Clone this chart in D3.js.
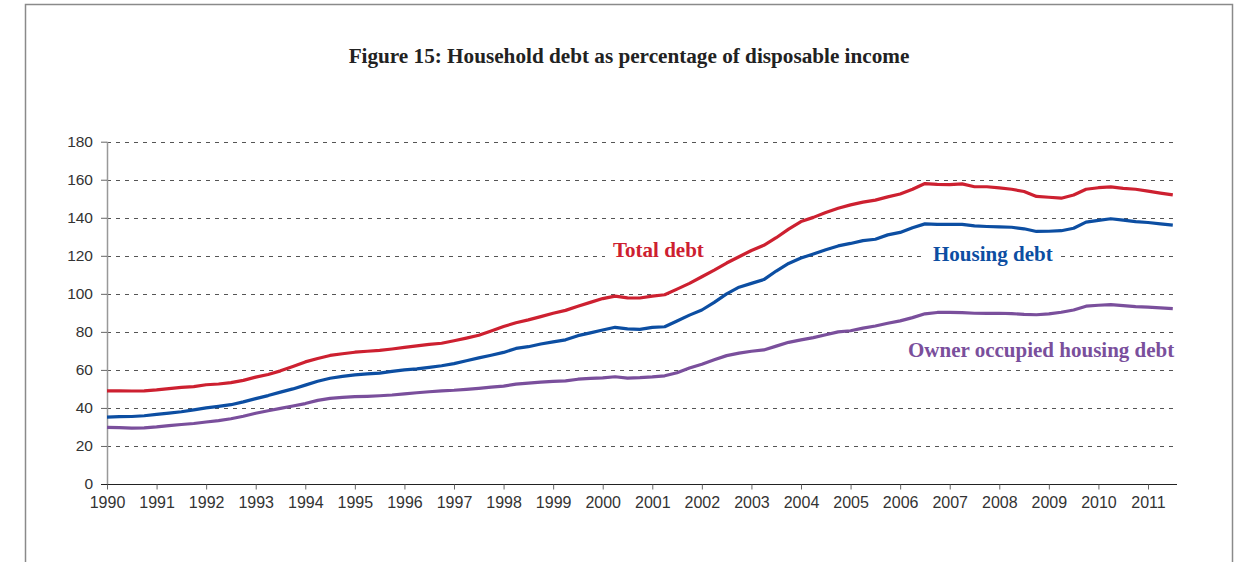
<!DOCTYPE html>
<html>
<head>
<meta charset="utf-8">
<script src="https://cdn.jsdelivr.net/npm/d3@7"></script>
<style>
  html, body { margin: 0; padding: 0; background: #fff; }
  svg { display: block; }
</style>
</head>
<body>
<svg id="chart" width="1239" height="562"></svg>
<script>
// ---- Data (quarterly, 1990 Q1 .. 2011 Q3) ----
const startYear = 1990;
const yearTicks = d3.range(1990, 2012);
const yTicks = [0, 20, 40, 60, 80, 100, 120, 140, 160, 180];

const totalDebt = [
  49.0, 49.0, 48.9, 49.0,
  49.5, 50.2, 50.8, 51.2,
  52.2, 52.6, 53.3, 54.5,
  56.2, 57.6, 59.5, 61.8,
  64.2, 66.0, 67.6, 68.5,
  69.3, 69.8, 70.3, 71.0,
  71.8, 72.6, 73.4, 74.0,
  75.3, 76.7, 78.2, 80.5,
  82.8, 84.8, 86.3, 88.0,
  89.8, 91.3, 93.5, 95.5,
  97.5, 98.8, 97.9, 97.8,
  98.8, 99.5, 102.5, 105.5,
  109.0, 112.5, 116.2, 119.5,
  122.8, 125.5, 129.5, 134.0,
  138.0, 140.2, 142.8, 145.0,
  146.8, 148.2, 149.3, 151.0,
  152.5, 155.0, 158.0, 157.6,
  157.4, 157.8, 156.3, 156.3,
  155.7, 155.0, 153.8, 151.2,
  150.8, 150.3, 152.0, 155.0,
  155.8, 156.2, 155.5, 155.0,
  154.0, 153.0, 152.0
];

const housingDebt = [
  35.2, 35.4, 35.5, 35.9,
  36.6, 37.3, 38.0, 39.0,
  40.0, 40.8, 41.7, 43.2,
  44.9, 46.5, 48.3, 50.0,
  52.0, 54.0, 55.6, 56.6,
  57.4, 57.9, 58.3, 59.2,
  60.0, 60.5, 61.3, 62.2,
  63.3, 64.8, 66.3, 67.7,
  69.2, 71.3, 72.2, 73.6,
  74.7, 75.8, 78.0, 79.5,
  81.0, 82.4, 81.6, 81.3,
  82.4, 82.7, 85.7, 88.8,
  91.5, 95.5, 100.0, 103.5,
  105.5, 107.5, 112.0, 116.0,
  118.8, 121.0, 123.2, 125.2,
  126.5, 128.0, 128.7, 131.0,
  132.3, 134.8, 136.8, 136.5,
  136.5, 136.5, 135.7, 135.4,
  135.2, 135.0, 134.2, 132.8,
  132.9, 133.2, 134.5, 137.7,
  138.6, 139.5, 138.8, 138.0,
  137.5, 136.8, 136.1
];

const ownerOccupiedDebt = [
  29.8, 29.6, 29.4, 29.5,
  30.0, 30.7, 31.3, 31.8,
  32.6, 33.3, 34.3, 35.6,
  37.2, 38.5, 39.8, 41.0,
  42.3, 44.0, 45.0, 45.6,
  45.9, 46.1, 46.4, 46.8,
  47.4, 48.0, 48.5, 49.0,
  49.3, 49.8, 50.3, 50.9,
  51.5, 52.5, 53.0, 53.6,
  54.0, 54.2, 55.1, 55.5,
  55.8, 56.4, 55.7, 55.9,
  56.3, 56.9, 58.5, 61.0,
  63.0, 65.3, 67.5, 68.8,
  69.8, 70.5, 72.5, 74.5,
  75.8, 77.0, 78.5, 80.0,
  80.6, 82.0, 83.1, 84.5,
  85.8, 87.5, 89.5, 90.2,
  90.2, 90.1, 89.8, 89.7,
  89.8, 89.6, 89.2, 89.0,
  89.5, 90.3, 91.5, 93.5,
  94.0, 94.3, 93.8, 93.3,
  93.0, 92.6, 92.2
];

const seriesNames = ["Total debt", "Housing debt", "Owner occupied housing debt"];
const seriesColors = ["#cd2030", "#0c4ea2", "#7a4f9c"];
const titleText = "Figure 15: Household debt as percentage of disposable income";

// ---- Chart ----
const svg = d3.select("#chart");

// outer frame
svg.append("rect")
  .attr("x", 25.5).attr("y", 4.5)
  .attr("width", 1207).attr("height", 600)
  .attr("fill", "none").attr("stroke", "#8a8a8a").attr("stroke-width", 1.5);

const x = d3.scaleLinear().domain([1990, 2011.585]).range([107, 1177]);
const y = d3.scaleLinear().domain([0, 180]).range([484, 141.7]);

// gridlines
svg.append("g")
  .selectAll("line")
  .data(yTicks.filter(d => d > 0))
  .join("line")
  .attr("x1", x(1990)).attr("x2", x.range()[1])
  .attr("y1", d => Math.round(y(d)) + 0.5).attr("y2", d => Math.round(y(d)) + 0.5)
  .attr("stroke", "#555").attr("stroke-width", 1)
  .attr("stroke-dasharray", "4,5");

// y axis
const yAxis = d3.axisLeft(y).tickValues(yTicks).tickSize(6).tickPadding(8);
const gy = svg.append("g").attr("transform", `translate(${x(1990)},0)`).call(yAxis);
gy.select(".domain").attr("stroke", "#999").attr("stroke-width", 1.5).attr("d", `M0.5,${y(180)}V${y(0)}`);
gy.selectAll(".tick line").attr("stroke", "#666");
gy.selectAll(".tick text")
  .attr("font-family", "'Liberation Sans', Arial, sans-serif")
  .attr("font-size", 15.5).attr("fill", "#333");

// x axis
const xAxis = d3.axisBottom(x).tickValues(yearTicks).tickFormat(d3.format("d")).tickSize(5).tickPadding(7);
const gx = svg.append("g").attr("transform", `translate(0,${Math.round(y(0)) + 0.5})`).call(xAxis);
gx.select(".domain").attr("stroke", "#222").attr("stroke-width", 1.2).attr("d", `M${x(1990) - 6},0H${x.range()[1]}`);
gx.selectAll(".tick line").attr("stroke", "#666");
gx.selectAll(".tick text")
  .attr("font-family", "'Liberation Sans', Arial, sans-serif")
  .attr("font-size", 16).attr("fill", "#333");

// lines
const seriesData = [totalDebt, housingDebt, ownerOccupiedDebt];
const line = d3.line()
  .x((d, i) => x(startYear + i / 4))
  .y(d => y(d));

svg.append("g").selectAll("path")
  .data(seriesData)
  .join("path")
  .attr("d", line)
  .attr("fill", "none")
  .attr("stroke", (d, i) => seriesColors[i])
  .attr("stroke-width", 3.2)
  .attr("stroke-linejoin", "round");

// series labels (with white background masking gridlines)
const labelPos = [
  { x: 613, y: 257 },
  { x: 933, y: 261 },
  { x: 908, y: 357 }
];
const lg = svg.append("g");
const labels = lg.selectAll("g")
  .data(seriesNames)
  .join("g");
const bgRects = labels.append("rect").attr("fill", "#fff");
const texts = labels.append("text")
  .attr("x", (d, i) => labelPos[i].x)
  .attr("y", (d, i) => labelPos[i].y)
  .attr("font-family", "'Liberation Serif', 'Times New Roman', serif")
  .attr("font-weight", "bold")
  .attr("font-size", 21)
  .attr("fill", (d, i) => seriesColors[i])
  .text(d => d);
texts.each(function (d, i) {
  const b = this.getBBox();
  d3.select(bgRects.nodes()[i])
    .attr("x", b.x - 8).attr("y", b.y)
    .attr("width", b.width + 16).attr("height", b.height);
});

// title
svg.append("text")
  .attr("x", 629).attr("y", 63)
  .attr("text-anchor", "middle")
  .attr("font-family", "'Liberation Serif', 'Times New Roman', serif")
  .attr("font-weight", "bold")
  .attr("font-size", 21.2)
  .attr("fill", "#222")
  .text(titleText);
</script>
</body>
</html>
